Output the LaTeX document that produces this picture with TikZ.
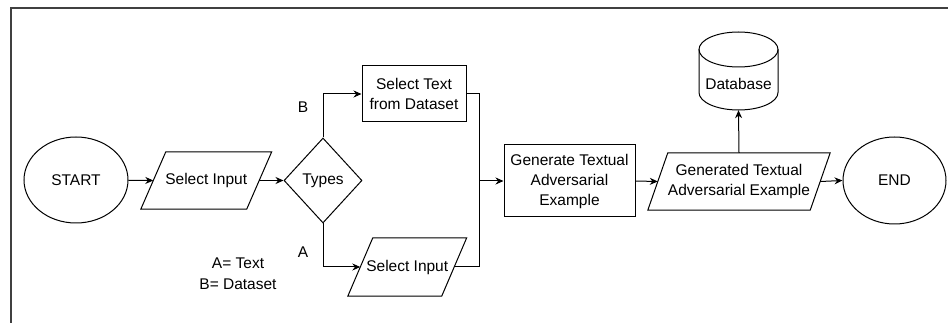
\documentclass[tikz,border=0pt]{standalone}
\usepackage{fontspec}
\setmainfont{Liberation Sans}
\usetikzlibrary{arrows.meta,shapes.geometric}

\tikzset{
  base/.style={draw=black, line width=1pt, fill=white, inner sep=0pt,
    font=\fontsize{15.5}{20}\selectfont, align=center, text=black},
  terminal/.style={base, ellipse},
  process/.style={base, rectangle},
  decision/.style={base, diamond},
  ioframe/.style={inner sep=0pt, font=\fontsize{15.5}{20}\selectfont, align=center, text=black},
  dbframe/.style={ioframe},
  shapeline/.style={draw=black, line width=1pt, fill=white},
  arr/.style={draw=black, line width=1pt, -{Stealth[length=8pt,width=7pt]}},
  link/.style={draw=black, line width=1pt},
  lbl/.style={font=\fontsize{15.5}{20}\selectfont, text=black, inner sep=0pt, align=center}
}

% slanted outline for an input/output node: #1 node name, #2 half of the slant
\newcommand{\slantbox}[2]{%
  \path[shapeline] ([xshift=#2]#1.north west) -- ([xshift=#2]#1.north east)
    -- ([xshift=-#2]#1.south east) -- ([xshift=-#2]#1.south west) -- cycle;}

\begin{document}
\begin{tikzpicture}[x=1pt,y=-1pt]
\useasboundingbox (0,0) rectangle (948,323);

% page frame
\draw[line width=1.4pt, draw=black!75] (11,323) -- (11,8) -- (948,8);

% terminals and steps
\node[terminal, minimum width=104pt, minimum height=86pt] (start) at (76,180) {START};
\node[decision, minimum width=78pt, minimum height=85pt] (types) at (323,180.5) {Types};
\node[process, minimum width=104pt, minimum height=56pt] (sel) at (414,94) {Select Text\\from Dataset};
\node[process, minimum width=131pt, minimum height=72pt] (gen) at (569.5,181) {Generate Textual\\Adversarial\\Example};
\node[terminal, minimum width=103pt, minimum height=87pt] (end) at (894.5,180.5) {END};

% input / output nodes (slanted outlines drawn behind the text)
\node[ioframe, minimum width=105.5pt, minimum height=57pt] (in1) at (206.25,180.5) {};
\slantbox{in1}{12.5pt}
\node[ioframe] at (in1) {Select Input};

\node[ioframe, minimum width=93.5pt, minimum height=58pt] (in2) at (407.25,267) {};
\slantbox{in2}{12.5pt}
\node[ioframe] at (in2) {Select Input};

\node[ioframe, minimum width=162pt, minimum height=57pt] (out) at (739,181.5) {};
\slantbox{out}{10pt}
\node[ioframe] at (out) {Generated Textual\\Adversarial Example};

% database cylinder: body, then outline, then top ellipse
\node[dbframe, minimum width=79pt, minimum height=78pt] (db) at (738.5,71) {};
\fill[white] (699,49.5) -- (699,92.5)
  arc[start angle=180, end angle=360, x radius=39.5pt, y radius=17.5pt]
  -- (778,49.5) -- cycle;
\draw[link] (699,49.5) -- (699,92.5)
  arc[start angle=180, end angle=360, x radius=39.5pt, y radius=17.5pt]
  -- (778,49.5);
\draw[link] (738.5,49.5) ellipse[x radius=39.5pt, y radius=17.5pt];
\node[ioframe] at (738.5,84) {Database};

% connectors
\draw[arr] (start) -- (in1.west);
\draw[arr] (in1.east) -- (types.west);
\draw[arr] (types.north) |- (sel.west);
\draw[arr] (types.south) |- (in2.west);
\coordinate (join) at (479,181);
\draw[link] (sel.east) -| (join);
\draw[link] (in2.east) -| (join);
\draw[arr] (join) -- (gen.west);
\draw[arr] (gen.east) -- (out.west);
\draw[arr] (out.north) -- (db.south);
\draw[arr] (out.east) -- (end.west);

% branch labels and legend
\node[lbl] (labB) at (303,107) {B};
\node[lbl] (labA) at (303,252) {A};
\node[lbl] (legA) at (238,263.5) {A= Text};
\node[lbl] (legB) at (238,284) {B= Dataset};
\end{tikzpicture}
\end{document}
